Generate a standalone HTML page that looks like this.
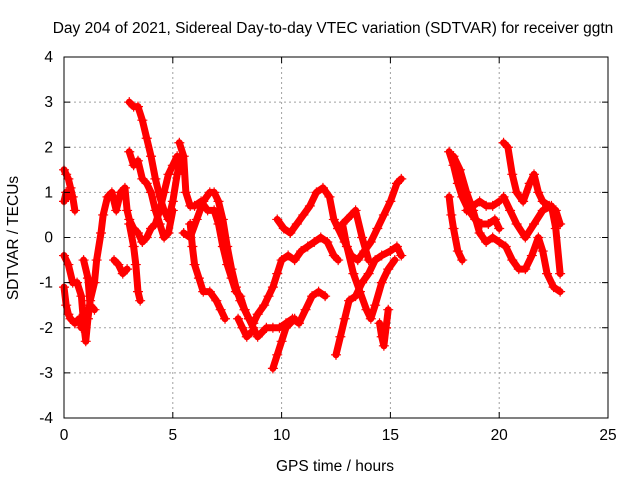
<!DOCTYPE html>
<html><head><meta charset="utf-8"><style>
body{margin:0;background:#fff;}
svg text{font-family:"Liberation Sans",sans-serif;font-size:15.5px;fill:#000;}
</style></head><body>
<svg id="chart" width="640" height="480" xmlns="http://www.w3.org/2000/svg">
<rect width="640" height="480" fill="#fff"/>
<g id="grid"></g>
<g id="series"></g>
<rect x="64" y="57" width="544" height="361" fill="none" stroke="#000" stroke-width="1"/>
<g id="ticks"></g>
<text x="333" y="33" text-anchor="middle">Day 204 of 2021, Sidereal Day-to-day VTEC variation (SDTVAR) for receiver ggtn</text>
<text x="335" y="471" text-anchor="middle">GPS time / hours</text>
<text transform="translate(18,238) rotate(-90)" text-anchor="middle">SDTVAR / TECUs</text>
</svg>
<script>
const xTicks=[0,5,10,15,20,25];
const yTicks=[-4,-3,-2,-1,0,1,2,3,4];
const t1=[[0,1.5],[0.1,1.4],[0.2,1.3],[0.3,1.1],[0.4,0.9],[0.5,0.6]];
const t1b=[[0,0.8],[0.1,1.0],[0.2,0.9]];
const t2=[[0,-1.1],[0.1,-1.5],[0.2,-1.7],[0.3,-1.8],[0.5,-1.9],[0.7,-1.8],[0.8,-2.0]];
const t3=[[0,-0.4],[0.2,-0.6],[0.4,-1.0],[0.6,-1.0],[0.8,-1.3],[0.9,-1.9],[1.0,-2.3],[1.1,-1.8],[1.2,-1.4],[1.4,-1.0],[1.5,-0.5],[1.7,0.1],[1.8,0.5],[2.0,0.9],[2.2,1.0],[2.4,0.6],[2.6,1.0],[2.8,1.1],[2.9,0.6],[3.0,0.4],[3.2,0.2],[3.4,0.1],[3.6,-0.1],[3.8,0.0],[4.0,0.2],[4.2,0.3],[4.4,0.6],[4.6,1.0],[4.8,1.4],[5.0,1.6],[5.2,1.8],[5.4,1.5]];
const t3b=[[0.9,-0.5],[1.1,-0.9],[1.2,-1.5],[1.4,-1.6]];
const t3c=[[2.3,-0.5],[2.5,-0.6],[2.7,-0.8],[2.9,-0.7]];
const t4=[[3.0,3.0],[3.2,2.9],[3.4,2.9],[3.6,2.6],[3.8,2.2],[4.0,1.8],[4.2,1.3],[4.4,0.9],[4.6,0.6],[4.8,0.4],[5.0,0.8],[5.2,1.4],[5.4,1.8]];
const t5=[[3.0,1.9],[3.2,1.6],[3.4,1.7],[3.6,1.3],[3.8,1.2],[4.0,1.0],[4.2,0.6],[4.4,0.3],[4.6,0.0],[4.8,0.1],[5.0,0.6]];
const t5b=[[3.0,0.3],[3.2,-0.2],[3.3,-0.6],[3.4,-1.2],[3.5,-1.4]];
const t6=[[5.3,2.1],[5.5,1.8],[5.6,1.0],[5.8,0.7],[6.0,0.7],[6.3,0.8],[6.6,0.6],[6.9,0.6],[7.1,0.3],[7.3,-0.2],[7.5,-0.6],[7.7,-0.9],[7.9,-1.2],[8.1,-1.3],[8.3,-1.6],[8.5,-1.8],[8.7,-1.9],[8.9,-1.7],[9.2,-1.5],[9.4,-1.3],[9.6,-1.1],[9.8,-0.8],[10.0,-0.5],[10.3,-0.4],[10.6,-0.5],[10.9,-0.3],[11.2,-0.2],[11.5,-0.1],[11.8,0.0],[12.1,-0.1],[12.4,-0.4],[12.6,-0.5]];
const t7=[[5.5,0.1],[5.8,0.0],[6.1,0.4],[6.4,0.8],[6.7,1.0],[6.9,1.0],[7.1,0.8],[7.3,0.4],[7.5,-0.2],[7.7,-0.7],[7.9,-1.1],[8.1,-1.4],[8.3,-1.6],[8.5,-1.8],[8.7,-2.0],[8.9,-2.2],[9.1,-2.1],[9.3,-2.0],[9.6,-2.0],[9.9,-2.0],[10.2,-1.9],[10.5,-1.8],[10.8,-1.9],[11.1,-1.6],[11.4,-1.3],[11.7,-1.2],[12.0,-1.3]];
const t8=[[5.8,0.3],[5.9,-0.2],[6.0,-0.6],[6.2,-0.9],[6.4,-1.2],[6.7,-1.2],[7.0,-1.4],[7.2,-1.6],[7.4,-1.8]];
const t8b=[[8.0,-1.8],[8.2,-2.0],[8.4,-2.2],[8.6,-2.1]];
const t9=[[9.6,-2.9],[9.8,-2.6],[10.0,-2.3],[10.2,-2.0],[10.4,-1.9],[10.6,-1.8]];
const t10=[[9.8,0.4],[10.1,0.2],[10.4,0.1],[10.7,0.3],[11.0,0.5],[11.3,0.7],[11.6,1.0],[11.9,1.1],[12.2,0.9],[12.4,0.4],[12.6,0.2],[12.9,-0.1],[13.2,-0.4],[13.5,-0.5],[13.8,-0.3],[14.1,-0.1],[14.4,0.2],[14.7,0.5],[15.0,0.8],[15.3,1.2],[15.5,1.3]];
const t11=[[12.5,-2.6],[12.7,-2.2],[12.9,-1.8],[13.1,-1.4],[13.4,-1.3],[13.7,-1.0],[14.0,-0.8],[14.3,-0.5],[14.6,-0.4],[15.0,-0.3],[15.3,-0.2],[15.5,-0.4]];
const t12=[[12.8,0.3],[13.0,-0.2],[13.3,-0.8],[13.6,-1.2],[13.9,-1.6],[14.1,-1.8],[14.3,-1.5],[14.6,-1.0],[14.9,-0.7],[15.2,-0.5]];
const t13=[[12.6,0.2],[13.0,0.4],[13.4,0.6],[13.7,0.0],[14.0,-0.5]];
const t14=[[14.5,-1.9],[14.6,-2.2],[14.7,-2.4],[14.8,-2.0],[14.9,-1.6]];
const t15=[[17.7,1.9],[17.9,1.6],[18.1,1.2],[18.3,0.9],[18.6,0.6],[18.9,0.4],[19.2,0.3],[19.5,0.3],[19.8,0.4],[20.0,0.2]];
const t16=[[17.7,0.9],[17.8,0.5],[17.9,0.2],[18.1,-0.3],[18.3,-0.5]];
const t16b=[[18.5,0.6],[18.8,0.7],[19.1,0.8],[19.4,0.7],[19.7,0.7],[20.0,0.8]];
const t17=[[17.9,1.8],[18.2,1.5],[18.5,1.0],[18.8,0.6],[19.1,0.1],[19.4,-0.1],[19.7,0.0],[20.0,-0.1],[20.3,-0.2],[20.6,-0.5],[20.9,-0.7],[21.2,-0.7],[21.5,-0.4],[21.8,0.0],[22.0,-0.3],[22.2,-0.8],[22.5,-1.1],[22.8,-1.2]];
const t18=[[20.2,2.1],[20.4,2.0],[20.6,1.4],[20.8,1.0],[21.1,0.8],[21.4,1.2],[21.6,1.4],[21.8,1.0],[22.0,0.8],[22.3,0.7],[22.6,0.6],[22.8,0.3]];
const t19=[[20.2,0.9],[20.5,0.6],[20.8,0.3],[21.2,0.0],[21.6,0.3],[22.0,0.6],[22.4,0.7],[22.6,0.2],[22.8,-0.8]];
const allSeries=[t1,t1b,t2,t3,t3b,t3c,t4,t5,t5b,t6,t7,t8,t8b,t9,t10,t11,t12,t13,t14,t15,t16,t16b,t17,t18,t19];

const NS='http://www.w3.org/2000/svg';
const X0=64,X1=608,Y0=418,Y1=57;
function xs(v){return X0+(v-0)/(25-0)*(X1-X0);}
function ys(v){return Y0-(v+4)/8*(Y0-Y1);}
function mk(tag,attrs,parent){const e=document.createElementNS(NS,tag);for(const k in attrs)e.setAttribute(k,attrs[k]);parent.appendChild(e);return e;}
const grid=document.getElementById('grid'),ticks=document.getElementById('ticks'),ser=document.getElementById('series');
xTicks.forEach(t=>{
  const x=xs(t);
  if(t>0&&t<25){const g=mk('line',{x1:x,x2:x,y1:Y1,y2:Y0,stroke:'#a0a0a0','stroke-dasharray':'2,3'},grid);
    
    }
  mk('line',{x1:x,x2:x,y1:Y0,y2:Y0-6,stroke:'#000'},ticks);
  mk('line',{x1:x,x2:x,y1:Y1,y2:Y1+6,stroke:'#000'},ticks);
  const l=mk('text',{x:x,y:Y0+22,'text-anchor':'middle'},ticks);l.textContent=t;
  
  
});
yTicks.forEach(t=>{
  const y=ys(t);
  if(t>-4&&t<4){const g=mk('line',{x1:X0,x2:X1,y1:y,y2:y,stroke:'#a0a0a0','stroke-dasharray':'2,3'},grid);
    
    }
  mk('line',{x1:X0,x2:X0+6,y1:y,y2:y,stroke:'#000'},ticks);
  mk('line',{x1:X1,x2:X1-6,y1:y,y2:y,stroke:'#000'},ticks);
  const l=mk('text',{x:X0-11,y:y+5,'text-anchor':'end'},ticks);l.textContent=t;
  
  
});
allSeries.forEach((s,i)=>{
  const g=mk('g',{},ser);
  
  
  mk('polyline',{points:s.map(p=>xs(p[0])+','+ys(p[1])).join(' '),fill:'none',stroke:'#f00','stroke-width':7,'stroke-linejoin':'round','stroke-linecap':'round'},g);
  s.forEach(p=>{
    const x=xs(p[0]),y=ys(p[1]);
    const m=mk('path',{d:`M${x-5},${y}h10M${x},${y-5}v10`,stroke:'#f00','stroke-width':1.2},g);
    
    
  });
});
</script>
</body></html>
